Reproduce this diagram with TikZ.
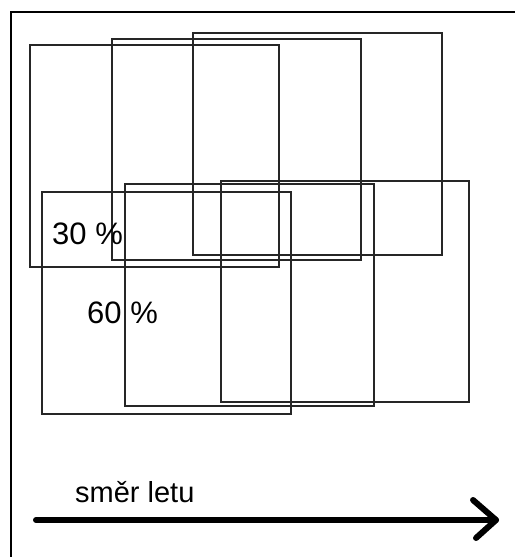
\documentclass[tikz,border=0pt]{standalone}
\usepackage{fontspec}
\setmainfont{Liberation Sans}
\begin{document}
\begin{tikzpicture}[x=1bp,y=-1bp,
  frameline/.style={line width=2bp,black},
  photo/.style={draw=black!85,line width=1.8bp},
  lbl/.style={inner sep=0pt,anchor=base west,font=\fontsize{31bp}{33bp}\selectfont},
  flight/.style={line width=6bp,line cap=round,line join=round,black}]
\useasboundingbox (0,0) rectangle (515,557);
% frame
\coordinate (fbl) at (11,557);
\coordinate (ftl) at (11,12);
\coordinate (ftr) at (515,12);
\draw[frameline] (fbl) -- (ftl) -- (ftr);
% upper strip of photos
\draw[photo] (30,45) rectangle (279,267);
\draw[photo] (112,39) rectangle (361,260);
\draw[photo] (193,33) rectangle (442,255);
% lower strip of photos
\draw[photo] (42,192) rectangle (291,414);
\draw[photo] (125,184) rectangle (374,406);
\draw[photo] (221,181) rectangle (469,402);
% labels
\node[lbl] (p30) at (52,244) {30 \%};
\node[lbl] (p60) at (87,323) {60 \%};
\node[lbl,font=\fontsize{29bp}{31bp}\selectfont] (dir) at (75,502) {směr letu};
% flight direction arrow
\coordinate (as) at (36,520);
\coordinate (ae) at (496,520);
\coordinate (h1) at (473,500);
\coordinate (h2) at (476,538);
\draw[flight] (as) -- (ae);
\draw[flight] (h1) -- (ae) -- (h2);
\end{tikzpicture}
\end{document}
